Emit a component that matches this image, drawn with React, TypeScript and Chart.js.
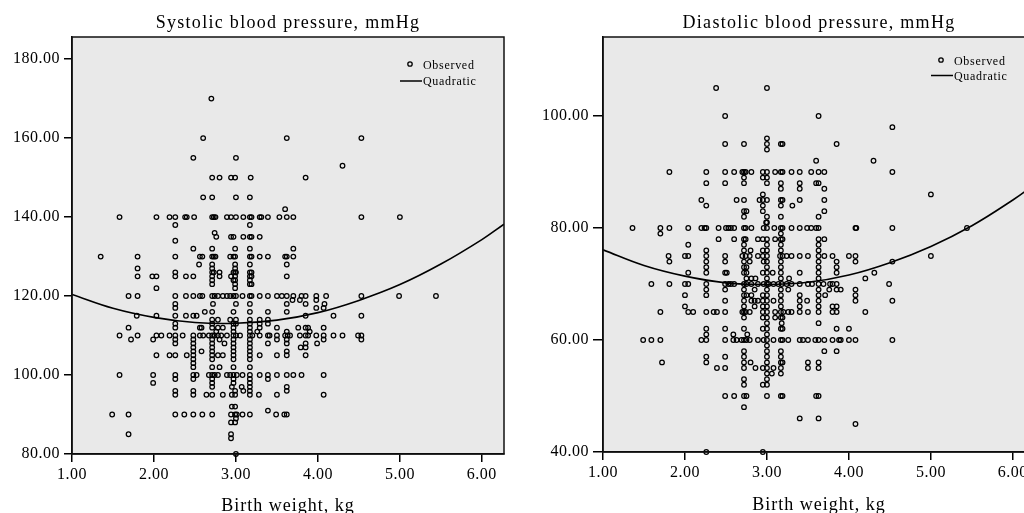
import React, { useEffect, useRef } from 'react';
import { Chart, registerables } from 'chart.js';

Chart.register(...registerables);

const FONT = '"Liberation Serif", "DejaVu Serif", serif';

// Systolic blood pressure (mmHg): rows of [SBP value, birth weights (kg) observed at that value]
const sbpRows: [number, number[]][] = [
  [170, [2.70]],
  [160, [2.60, 3.62, 4.53]],
  [155, [2.48, 3.00]],
  [153, [4.30]],
  [150, [2.71, 2.80, 2.94, 2.99, 3.18, 3.85]],
  [145, [2.60, 2.71, 3.00, 3.17]],
  [142, [3.60]],
  [140, [1.58, 2.03, 2.19, 2.26, 2.38, 2.40, 2.49, 2.71, 2.73, 2.75, 2.89, 2.94, 3.00, 3.09, 3.17, 3.19, 3.29, 3.31, 3.39, 3.53, 3.62, 3.70, 4.53, 5.00]],
  [138, [2.26, 3.17]],
  [136, [2.74]],
  [135, [2.76, 2.94, 2.97, 3.09, 3.17, 3.19, 3.29]],
  [134, [2.26]],
  [132, [2.48, 2.71, 2.99, 3.17, 3.70]],
  [130, [1.35, 1.80, 2.26, 2.56, 2.59, 2.71, 2.73, 2.75, 2.93, 2.97, 2.99, 3.17, 3.19, 3.29, 3.39, 3.60, 3.62, 3.70]],
  [128, [2.55, 2.71, 2.99, 3.17, 3.62]],
  [127, [1.80, 2.71, 2.99]],
  [126, [2.26, 2.71, 2.73, 2.80, 2.97, 2.99, 3.00, 3.17, 3.19]],
  [125, [1.80, 1.98, 2.03, 2.26, 2.39, 2.48, 2.71, 2.80, 2.94, 2.99, 3.17, 3.19, 3.62]],
  [124, [2.71, 2.97, 2.99, 3.17]],
  [123, [2.71, 2.99, 3.17, 3.19]],
  [122, [2.03, 2.99]],
  [120, [1.69, 1.80, 2.26, 2.39, 2.48, 2.56, 2.59, 2.71, 2.74, 2.78, 2.84, 2.89, 2.93, 2.97, 3.00, 3.08, 3.17, 3.19, 3.29, 3.39, 3.50, 3.56, 3.62, 3.70, 3.80, 3.85, 3.98, 4.10, 4.53, 4.99, 5.44]],
  [119, [3.69, 3.78, 3.98]],
  [118, [2.26, 2.72, 3.00, 3.17, 3.62, 3.85, 4.08]],
  [117, [2.26, 3.98, 4.07]],
  [116, [2.62, 2.71, 2.97, 3.17, 3.39, 3.62]],
  [115, [1.79, 2.03, 2.26, 2.39, 2.48, 2.52, 3.85, 4.19, 4.53]],
  [114, [2.71, 2.78, 2.93, 3.00, 3.17, 3.29, 3.39]],
  [113, [2.26, 2.71, 2.97, 3.00, 3.17, 3.29, 3.39]],
  [112, [1.69, 2.26, 2.56, 2.58, 2.71, 2.78, 2.84, 2.97, 3.17, 3.29, 3.50, 3.76, 3.85, 3.88, 4.07]],
  [111, [2.76, 2.97, 3.17, 3.26, 3.62, 3.90]],
  [110, [1.58, 1.80, 2.03, 2.09, 2.19, 2.26, 2.35, 2.48, 2.56, 2.60, 2.67, 2.71, 2.74, 2.78, 2.82, 2.89, 2.97, 3.00, 3.05, 3.17, 3.20, 3.29, 3.39, 3.41, 3.50, 3.60, 3.63, 3.66, 3.78, 3.85, 3.88, 3.98, 4.07, 4.19, 4.30, 4.49, 4.53]],
  [109, [1.72, 1.99, 2.26, 2.48, 2.71, 2.80, 2.97, 3.17, 3.50, 3.62, 4.07, 4.53]],
  [108, [2.26, 2.48, 2.71, 2.86, 2.97, 3.17, 3.39, 3.62, 3.85, 3.99]],
  [107, [2.48, 2.71, 2.97, 3.17, 3.79, 3.85]],
  [106, [2.48, 2.58, 2.71, 2.97, 3.17, 3.62]],
  [105, [2.03, 2.19, 2.26, 2.40, 2.48, 2.71, 2.78, 2.84, 2.97, 3.17, 3.29, 3.50, 3.62, 3.85]],
  [104, [2.48, 2.71, 2.97, 3.17]],
  [103, [2.48]],
  [102, [2.48, 2.71, 2.80, 2.97, 3.17]],
  [100, [1.58, 1.99, 2.26, 2.48, 2.52, 2.67, 2.71, 2.74, 2.78, 2.89, 2.93, 2.97, 3.01, 3.08, 3.17, 3.29, 3.39, 3.50, 3.62, 3.70, 3.80, 4.07]],
  [99, [2.26, 2.48, 2.71, 2.97, 3.17, 3.39]],
  [98, [1.99, 2.71, 2.97, 3.17]],
  [97, [2.71, 2.95, 3.07, 3.17, 3.62]],
  [96, [2.26, 2.48, 2.99, 3.09, 3.17, 3.62]],
  [95, [2.26, 2.48, 2.64, 2.71, 2.84, 2.95, 2.99, 3.17, 3.28, 3.50, 4.07]],
  [92, [2.95, 2.99]],
  [91, [3.39]],
  [90, [1.49, 1.69, 2.26, 2.37, 2.48, 2.59, 2.71, 2.94, 2.99, 3.01, 3.08, 3.17, 3.49, 3.59, 3.62]],
  [89, [3.00]],
  [88, [2.94, 2.99]],
  [85, [1.69, 2.94]],
  [84, [2.94]],
  [80, [3.00]],
];

// Diastolic blood pressure (mmHg): rows of [DBP value, birth weights (kg)]
const dbpRows: [number, number[]][] = [
  [105, [2.38, 3.00]],
  [100, [2.49, 3.63]],
  [98, [4.53]],
  [96, [3.00]],
  [95, [2.49, 2.72, 3.00, 3.17, 3.19, 3.85]],
  [94, [3.00]],
  [92, [3.60, 4.30]],
  [90, [1.81, 2.26, 2.49, 2.60, 2.70, 2.72, 2.74, 2.81, 2.95, 3.00, 3.10, 3.17, 3.19, 3.30, 3.40, 3.54, 3.63, 3.70, 4.53]],
  [89, [2.72, 2.95, 3.00]],
  [88, [2.26, 2.49, 2.72, 3.00, 3.17, 3.40, 3.60, 3.63]],
  [87, [3.17, 3.40, 3.70]],
  [86, [2.95, 5.00]],
  [85, [2.20, 2.63, 2.72, 2.91, 2.95, 3.00, 3.17, 3.19, 3.40, 3.70]],
  [84, [2.26, 2.95, 3.17, 3.31]],
  [83, [2.72, 2.75, 2.95, 3.70]],
  [82, [2.72, 3.00, 3.17, 3.63]],
  [81, [2.99, 3.00]],
  [80, [1.36, 1.70, 1.81, 2.04, 2.20, 2.24, 2.26, 2.41, 2.50, 2.53, 2.56, 2.60, 2.72, 2.74, 2.81, 2.96, 3.00, 3.09, 3.17, 3.19, 3.30, 3.40, 3.49, 3.54, 3.60, 3.63, 4.08, 4.09, 4.53, 5.44]],
  [79, [1.70, 3.17]],
  [78, [2.41, 2.60, 2.72, 2.74, 2.89, 2.95, 3.00, 3.10, 3.17, 3.19, 3.63, 3.70]],
  [77, [2.04, 2.72, 3.00, 3.17, 3.63]],
  [76, [2.26, 2.72, 2.80, 2.95, 3.00, 3.17, 3.63]],
  [75, [1.80, 2.00, 2.04, 2.26, 2.49, 2.70, 2.74, 2.79, 2.89, 2.95, 3.00, 3.16, 3.19, 3.24, 3.30, 3.40, 3.50, 3.63, 3.70, 3.80, 4.00, 4.08, 5.00]],
  [74, [1.81, 2.26, 2.49, 2.72, 2.79, 2.96, 3.00, 3.17, 3.63, 3.85, 4.08, 4.53]],
  [73, [2.26, 2.72, 2.75, 3.00, 3.17, 3.63, 3.85]],
  [72, [2.04, 2.26, 2.49, 2.51, 2.72, 2.75, 2.95, 3.00, 3.07, 3.17, 3.40, 3.63, 3.85, 4.31]],
  [71, [2.75, 2.81, 2.86, 3.00, 3.17, 3.27, 3.63, 4.20]],
  [70, [1.59, 1.81, 2.00, 2.04, 2.26, 2.49, 2.53, 2.56, 2.60, 2.72, 2.75, 2.81, 2.89, 2.96, 3.00, 3.02, 3.08, 3.14, 3.18, 3.24, 3.30, 3.40, 3.50, 3.55, 3.63, 3.69, 3.77, 3.80, 3.85, 4.49]],
  [69, [2.26, 2.49, 2.72, 2.85, 3.00, 3.17, 3.26, 3.63, 3.76, 3.85, 3.90, 4.08]],
  [68, [2.00, 2.26, 2.72, 2.75, 2.81, 2.95, 3.00, 3.17, 3.40, 3.63, 3.71, 4.08]],
  [67, [2.49, 2.72, 2.81, 2.85, 2.89, 2.95, 3.00, 3.08, 3.17, 3.40, 3.49, 3.63, 4.08, 4.53]],
  [66, [2.00, 2.72, 2.85, 2.95, 3.00, 3.17, 3.40, 3.63, 3.80, 3.85]],
  [65, [1.70, 2.04, 2.10, 2.26, 2.35, 2.39, 2.49, 2.70, 2.72, 2.74, 2.79, 2.95, 3.00, 3.10, 3.17, 3.20, 3.26, 3.30, 3.40, 3.50, 3.63, 3.80, 3.85, 4.20]],
  [64, [2.72, 2.95, 3.00, 3.10, 3.17, 3.19]],
  [63, [3.00, 3.18, 3.63]],
  [62, [2.26, 2.49, 2.72, 2.95, 3.00, 3.17, 3.19, 3.85, 4.00]],
  [61, [2.26, 2.59, 2.76, 3.00]],
  [60, [1.49, 1.59, 1.70, 2.20, 2.26, 2.49, 2.59, 2.63, 2.69, 2.72, 2.75, 2.79, 2.89, 2.96, 3.00, 3.08, 3.17, 3.19, 3.26, 3.40, 3.44, 3.50, 3.59, 3.63, 3.70, 3.80, 3.88, 3.90, 4.00, 4.08, 4.53]],
  [59, [3.00]],
  [58, [2.72, 3.00, 3.17, 3.70, 3.85]],
  [57, [2.26, 2.49, 2.72, 3.00, 3.17]],
  [56, [1.72, 2.26, 2.72, 2.80, 3.00, 3.17, 3.19, 3.50, 3.63]],
  [55, [2.39, 2.49, 2.72, 2.86, 2.95, 3.00, 3.08, 3.17, 3.50, 3.63]],
  [54, [3.00, 3.06, 3.17]],
  [53, [2.72, 3.00]],
  [52, [2.72, 2.95, 3.00]],
  [50, [2.49, 2.60, 2.72, 2.75, 3.00, 3.17, 3.19, 3.60, 3.63]],
  [48, [2.72]],
  [46, [3.40, 3.63]],
  [45, [4.08]],
  [40, [2.26, 2.95]],
];

// Quadratic fit lines, read at these birth weights
const curveX = [1.0, 1.5, 2.0, 2.5, 3.0, 3.5, 4.0, 4.5, 5.0, 5.5, 6.0, 6.27];
const sbpCurve = [120.4, 116.9, 114.6, 113.3, 113.1, 113.9, 115.8, 118.9, 122.9, 128.1, 134.3, 138.2];
const dbpCurve = [76.1, 73.3, 71.4, 70.2, 69.9, 70.3, 71.6, 73.8, 76.7, 80.4, 85.0, 87.8];

const xTicks = [1, 2, 3, 4, 5, 6];
const sbpTicks = [80, 100, 120, 140, 160, 180];
const dbpTicks = [40, 60, 80, 100];

const titles = {
  sbp: 'Systolic blood pressure, mmHg',
  dbp: 'Diastolic blood pressure, mmHg',
  x: 'Birth weight, kg',
};
const legendLabels = ['Observed', 'Quadratic'];

function toPoints(rows: [number, number[]][]) {
  const out: { x: number; y: number }[] = [];
  for (const [y, xs] of rows) for (const x of xs) out.push({ x, y });
  return out;
}

const decorPlugin = {
  id: 'decor',
  beforeDraw(chart: any) {
    const { ctx, chartArea: a } = chart;
    ctx.save();
    ctx.fillStyle = '#e9e9e9';
    ctx.fillRect(a.left, a.top, a.right - a.left, a.bottom - a.top);
    ctx.restore();
    ctx.letterSpacing = '0.5px';
  },
  afterDraw(chart: any, _args: any, o: any) {
    const { ctx, chartArea: a } = chart;
    const cx = (a.left + a.right) / 2;
    ctx.save();
    ctx.strokeStyle = '#111';
    ctx.lineWidth = 1.5;
    ctx.strokeRect(a.left, a.top, a.right - a.left, a.bottom - a.top);
    ctx.fillStyle = '#000';
    ctx.textAlign = 'center';
    ctx.textBaseline = 'alphabetic';
    ctx.font = `18px ${FONT}`;
    ctx.letterSpacing = '1.3px';
    ctx.fillText(o.title, cx, o.titleBaseline);
    ctx.letterSpacing = '1px';
    ctx.fillText(titles.x, cx, o.xTitleBaseline);
    // legend
    ctx.font = `12px ${FONT}`;
    ctx.letterSpacing = '0.7px';
    ctx.textAlign = 'left';
    ctx.textBaseline = 'middle';
    const r = a.right;
    ctx.strokeStyle = '#000';
    ctx.beginPath();
    ctx.lineWidth = 1.3;
    ctx.arc(r - 94, a.top + o.dotY, 2.2, 0, Math.PI * 2);
    ctx.stroke();
    ctx.fillText(legendLabels[0], r - 81, a.top + o.dotY + 1.5);
    ctx.beginPath();
    ctx.lineWidth = 1.5;
    ctx.moveTo(r - 104, a.top + o.lineY);
    ctx.lineTo(r - 82, a.top + o.lineY);
    ctx.stroke();
    ctx.fillText(legendLabels[1], r - 81, a.top + o.lineY + 1);
    ctx.restore();
  },
};

type PanelCfg = {
  rows: [number, number[]][];
  curve: number[];
  yTicks: number[];
  yMax: number;
  title: string;
  yAxisWidth: number;
  xAxisHeight: number;
  padRight: number;
  yTickLen: number;
  dotY: number;
  lineY: number;
  xTitleBaseline: number;
};

function buildConfig(p: PanelCfg): any {
  const tickFont = { family: FONT, size: 16 };
  const fmt = (v: any) => Number(v).toFixed(2);
  return {
    type: 'scatter',
    data: {
      datasets: [
        {
          label: legendLabels[1],
          data: curveX.map((x, i) => ({ x, y: p.curve[i] })),
          showLine: true,
          borderColor: '#000',
          borderWidth: 1.6,
          pointRadius: 0,
          pointHoverRadius: 0,
          tension: 0.4,
          fill: false,
        },
        {
          label: legendLabels[0],
          data: toPoints(p.rows),
          showLine: false,
          pointRadius: 2.3,
          pointHoverRadius: 2.3,
          pointBorderWidth: 1.25,
          pointBorderColor: '#000',
          pointBackgroundColor: 'rgba(0,0,0,0)',
          clip: false,
        },
      ],
    },
    options: {
      animation: false,
      responsive: false,
      events: [],
      layout: { padding: { top: 37, right: p.padRight, left: 0, bottom: 0 } },
      plugins: {
        legend: { display: false },
        tooltip: { enabled: false },
        title: { display: false },
        decor: {
          title: p.title,
          titleBaseline: 28,
          xTitleBaseline: p.xTitleBaseline,
          dotY: p.dotY,
          lineY: p.lineY,
        },
      },
      scales: {
        x: {
          type: 'linear',
          min: xTicks[0],
          max: 6.27,
          afterBuildTicks: (s: any) => {
            s.ticks = xTicks.map((v) => ({ value: v }));
          },
          ticks: {
            autoSkip: false,
            maxRotation: 0,
            padding: 3,
            color: '#000',
            font: tickFont,
            callback: fmt,
          },
          grid: { drawOnChartArea: false, drawTicks: true, tickLength: 8, color: '#000', lineWidth: 1.5 },
          border: { display: true, color: '#000', width: 1.5 },
          afterFit: (s: any) => {
            s.height = p.xAxisHeight;
          },
        },
        y: {
          type: 'linear',
          min: p.yTicks[0],
          max: p.yMax,
          afterBuildTicks: (s: any) => {
            s.ticks = p.yTicks.map((v) => ({ value: v }));
          },
          ticks: {
            autoSkip: false,
            padding: 4,
            color: '#000',
            font: tickFont,
            callback: fmt,
          },
          grid: { drawOnChartArea: false, drawTicks: true, tickLength: p.yTickLen, color: '#000', lineWidth: 1.5 },
          border: { display: true, color: '#000', width: 1.5 },
          afterFit: (s: any) => {
            s.width = p.yAxisWidth;
          },
        },
      },
    },
    plugins: [decorPlugin],
  };
}

function Panel({ cfg, left, width }: { cfg: PanelCfg; left: number; width: number }) {
  const ref = useRef<HTMLCanvasElement | null>(null);
  useEffect(() => {
    if (!ref.current) return;
    const chart = new Chart(ref.current, buildConfig(cfg));
    return () => chart.destroy();
  }, []);
  return (
    <canvas
      ref={ref}
      width={width}
      height={513}
      style={{ position: 'absolute', left, top: 0, width, height: 513 }}
    />
  );
}

const sbpCfg: PanelCfg = {
  rows: sbpRows,
  curve: sbpCurve,
  yTicks: sbpTicks,
  yMax: 185.6,
  title: titles.sbp,
  yAxisWidth: 72,
  xAxisHeight: 59,
  padRight: 8,
  yTickLen: 8,
  dotY: 27,
  lineY: 44,
  xTitleBaseline: 511,
};

const dbpCfg: PanelCfg = {
  rows: dbpRows,
  curve: dbpCurve,
  yTicks: dbpTicks,
  yMax: 114.1,
  title: titles.dbp,
  yAxisWidth: 91,
  xAxisHeight: 61,
  padRight: 7,
  yTickLen: 10,
  dotY: 23,
  lineY: 38.5,
  xTitleBaseline: 510,
};

export default function App() {
  return (
    <div
      style={{
        position: 'fixed',
        left: 0,
        top: 0,
        width: 1024,
        height: 513,
        overflow: 'hidden',
        background: '#fff',
      }}
    >
      <Panel cfg={sbpCfg} left={0} width={512} />
      <Panel cfg={dbpCfg} left={512} width={530} />
    </div>
  );
}
